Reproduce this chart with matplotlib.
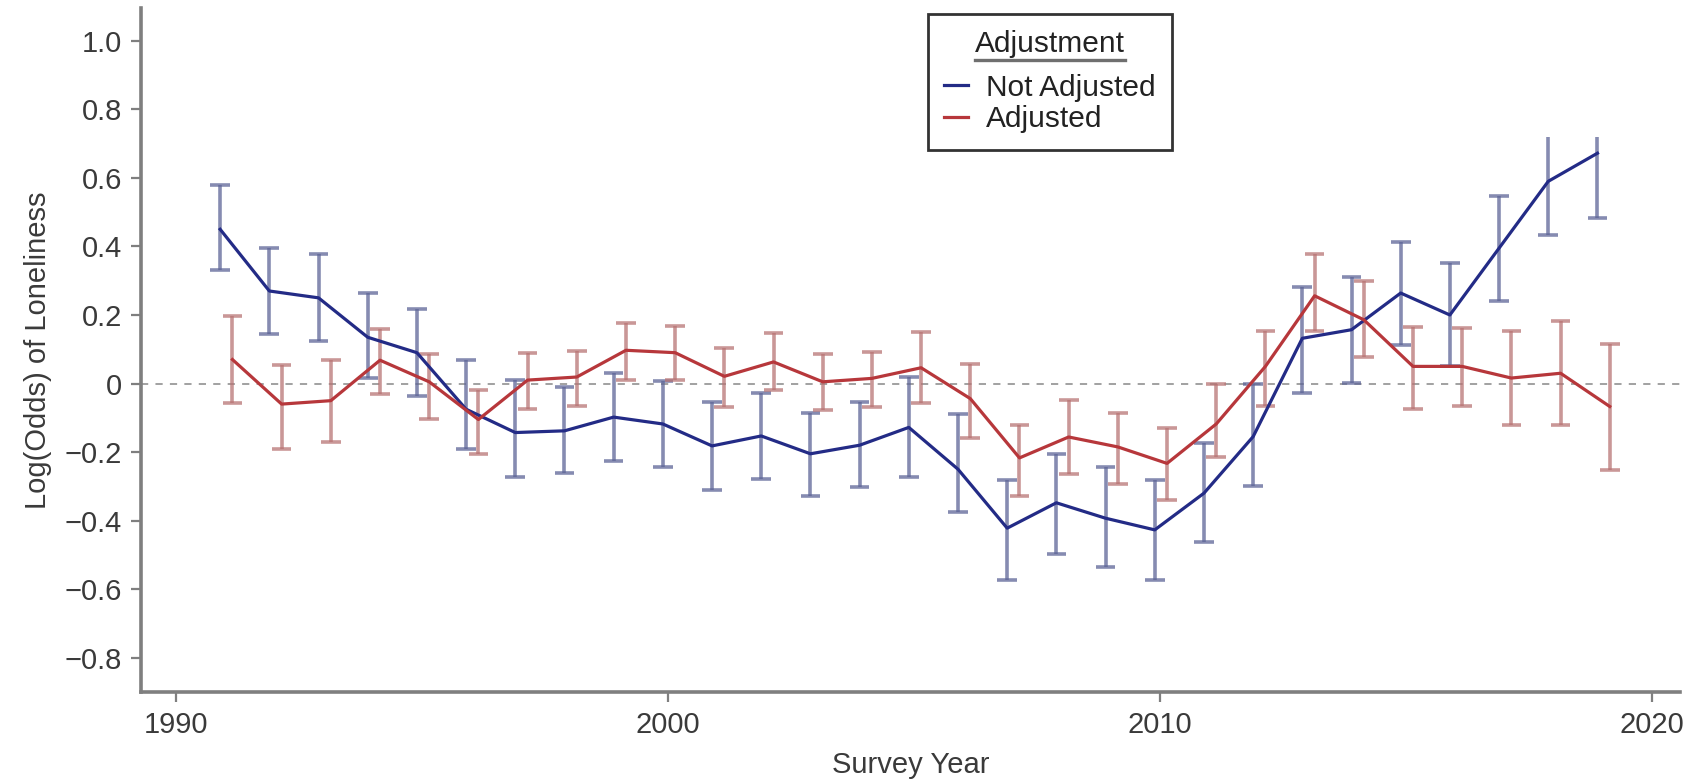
import matplotlib
matplotlib.use("Agg")
import matplotlib.pyplot as plt
from matplotlib.lines import Line2D
import numpy as np

# data
years = list(range(1991, 2020))

not_adj = [0.45, 0.27, 0.25, 0.135, 0.09, -0.075, -0.143, -0.138, -0.098, -0.118,
           -0.182, -0.153, -0.205, -0.18, -0.128, -0.25, -0.422, -0.348, -0.393, -0.427,
           -0.32, -0.155, 0.132, 0.157, 0.264, 0.2, 0.395, 0.59, 0.672]
not_adj_lo = [0.33, 0.145, 0.125, 0.015, -0.035, -0.19, -0.272, -0.262, -0.225, -0.243,
              -0.31, -0.28, -0.328, -0.302, -0.273, -0.375, -0.573, -0.497, -0.535, -0.573,
              -0.462, -0.30, -0.028, 0.001, 0.113, 0.05, 0.241, 0.434, 0.482]
not_adj_hi = [0.58, 0.395, 0.378, 0.265, 0.218, 0.068, 0.01, -0.01, 0.03, 0.008,
              -0.054, -0.028, -0.085, -0.055, 0.02, -0.09, -0.282, -0.207, -0.243, -0.282,
              -0.173, 0.0, 0.283, 0.312, 0.414, 0.351, 0.548, 0.72, 0.72]

adj = [0.07, -0.06, -0.05, 0.068, 0.005, -0.105, 0.01, 0.019, 0.097, 0.09,
       0.021, 0.063, 0.005, 0.015, 0.046, -0.044, -0.217, -0.156, -0.185, -0.233,
       -0.118, 0.05, 0.256, 0.186, 0.05, 0.05, 0.016, 0.03, -0.067]
adj_lo = [-0.058, -0.19, -0.17, -0.03, -0.104, -0.207, -0.073, -0.066, 0.01, 0.01,
          -0.068, -0.019, -0.076, -0.068, -0.056, -0.158, -0.329, -0.263, -0.292, -0.339,
          -0.215, -0.065, 0.152, 0.077, -0.075, -0.067, -0.12, -0.12, -0.252]
adj_hi = [0.197, 0.055, 0.068, 0.158, 0.085, -0.018, 0.088, 0.094, 0.178, 0.168,
          0.104, 0.148, 0.085, 0.092, 0.151, 0.056, -0.122, -0.047, -0.085, -0.131,
          0.0, 0.154, 0.377, 0.298, 0.166, 0.161, 0.152, 0.181, 0.115]

TOP_CLIP = 0.72  # bars reaching this are cut off in the original (no top cap)

plt.rcParams['font.family'] = ['Liberation Sans', 'DejaVu Sans']

fig = plt.figure(figsize=(17, 7.79), dpi=100)
ax = fig.add_axes([0.0832, 0.1117, 0.9048, 0.8786])

series = [
    ("Not Adjusted", not_adj, not_adj_lo, not_adj_hi, -0.10, "#232b86", "#5d6597"),
    ("Adjusted", adj, adj_lo, adj_hi, 0.15, "#b7373b", "#b87474"),
]

cap = 0.2
for name, y, lo, hi, shift, lc, bc in series:
    x = np.array(years) + shift
    lo = np.array(lo)
    hi = np.array(hi)
    ax.vlines(x, lo, hi, colors=bc, linewidth=2.6, alpha=0.75, zorder=2)
    ax.hlines(lo, x - cap, x + cap, colors=bc, linewidth=2.6, alpha=0.75, zorder=2)
    keep = hi < TOP_CLIP - 0.005
    ax.hlines(hi[keep], x[keep] - cap, x[keep] + cap, colors=bc, linewidth=2.6,
              alpha=0.75, zorder=2)
    ax.plot(x, y, color=lc, linewidth=2.3, zorder=3, label=name)

ax.axhline(0, color="#9a9a9a", linestyle=(0, (4, 4)), linewidth=1.3, zorder=1)

ax.set_xlim(1989.3, 2020.57)
ax.set_ylim(-0.90, 1.097)
ax.set_xticks([1990, 2000, 2010, 2020])
ax.set_yticks([1.0, 0.8, 0.6, 0.4, 0.2, 0, -0.2, -0.4, -0.6, -0.8])
ax.set_yticklabels(["1.0", "0.8", "0.6", "0.4", "0.2", "0",
                    "\u22120.2", "\u22120.4", "\u22120.6", "\u22120.8"])

for s in ["top", "right"]:
    ax.spines[s].set_visible(False)
for s in ["left", "bottom"]:
    ax.spines[s].set_color("#7f7f7f")
    ax.spines[s].set_linewidth(2.6)

ax.tick_params(colors="#7f7f7f", labelcolor="#3a3a3a", labelsize=21,
               length=7, width=1.6, pad=7)

ax.set_xlabel("Survey Year", fontsize=21, color="#3a3a3a", labelpad=8)
ax.set_ylabel("Log(Odds) of Loneliness", fontsize=21, color="#3a3a3a", labelpad=9)

leg = ax.legend(title="Adjustment", loc="upper left",
                bbox_to_anchor=(928 / 1700, 1 - 14 / 779),
                bbox_transform=fig.transFigure, borderaxespad=0,
                fontsize=21.5, title_fontsize=21.5, handlelength=0.8,
                handletextpad=0.6, labelspacing=0.12, borderpad=0.55,
                fancybox=False, framealpha=1)
leg._legend_box.sep = 11
leg.get_frame().set_edgecolor("#333333")
leg.get_frame().set_linewidth(2.0)
leg.get_title().set_color("#222222")
for t in leg.get_texts():
    t.set_color("#222222")

# underline the legend title
fig.canvas.draw()
bb = leg.get_title().get_window_extent()
y_line = (bb.y0 - 2) / fig.bbox.height
fig.add_artist(Line2D([bb.x0 / fig.bbox.width, bb.x1 / fig.bbox.width],
                      [y_line, y_line], transform=fig.transFigure,
                      color="#6f6f6f", linewidth=2.4))

fig.savefig("out.png", dpi=100)
